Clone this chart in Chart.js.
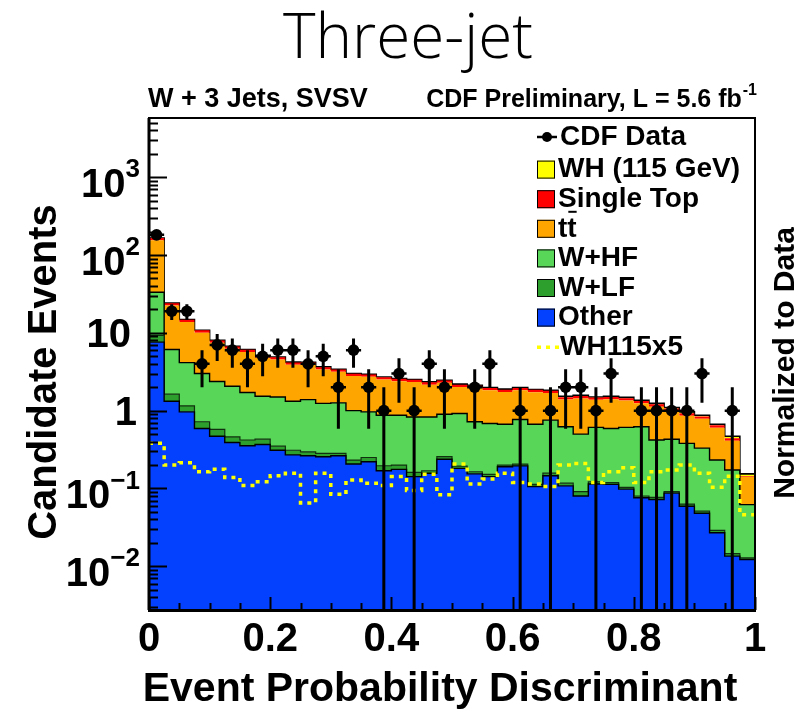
<!DOCTYPE html>
<html>
<head>
<meta charset="utf-8">
<script src="https://cdn.jsdelivr.net/npm/chart.js@4.4.1/dist/chart.umd.min.js"></script>
<style>
  html, body { margin: 0; padding: 0; background: #ffffff; }
  #wrap { width: 803px; height: 713px; }
</style>
</head>
<body>
<div id="wrap"><canvas id="c" width="803" height="713"></canvas></div>
<script>
// Histogram binning of the discriminant
const binLow = 0, binHigh = 1, nBins = 40;

// Expected events per bin, by process (stacked bottom to top)
const other = [7.6, 1.32, 0.965, 0.59, 0.47, 0.39, 0.354, 0.368, 0.31, 0.27,
  0.263, 0.256, 0.263, 0.206, 0.22, 0.169, 0.176, 0.142, 0.157, 0.237,
  0.181, 0.154, 0.142, 0.19, 0.195, 0.106, 0.146, 0.108, 0.08, 0.114,
  0.113, 0.098, 0.076, 0.072, 0.087, 0.059, 0.048, 0.027, 0.0135, 0.0122];
const wlf = [1.7, 0.31, 0.185, 0.13, 0.104, 0.07, 0.066, 0.062, 0.04, 0.04,
  0.033, 0.027, 0.02, 0.026, 0.03, 0.027, 0.024, 0.019, 0.012, 0.019,
  0.013, 0.01, 0.01, 0.01, 0.011, 0.007, 0.011, 0.009, 0.011, 0.008,
  0.006, 0.005, 0.004, 0.005, 0.004, 0.004, 0.003, 0.002, 0.001, 0.0006];
const whf = [24.0, 4.47, 3.0, 2.28, 1.8, 1.6, 1.29, 1.1, 1.15, 1.01,
  1.09, 0.957, 0.977, 0.768, 0.715, 0.679, 0.675, 0.669, 0.661, 0.644,
  0.726, 0.556, 0.533, 0.47, 0.564, 0.557, 0.598, 0.503, 0.409, 0.488,
  0.471, 0.507, 0.54, 0.343, 0.339, 0.317, 0.279, 0.203, 0.1585, 0.0492];
const ttbar = [121.8, 16.39, 9.65, 7.07, 5.08, 4.17, 3.97, 3.27, 3.05, 2.58,
  2.53, 2.14, 1.9, 1.78, 1.76, 1.64, 1.52, 1.5, 1.33, 1.38,
  1.09, 1.24, 1.14, 1.07, 1.06, 1.06, 0.935, 0.771, 0.935, 0.768,
  0.808, 0.737, 0.628, 0.706, 0.563, 0.482, 0.457, 0.373, 0.237, 0.079];
const singleTop = [10.8, 1.57, 0.96, 0.7, 0.52, 0.44, 0.4, 0.33, 0.32, 0.27,
  0.27, 0.24, 0.22, 0.195, 0.19, 0.176, 0.168, 0.163, 0.152, 0.16,
  0.142, 0.138, 0.129, 0.123, 0.129, 0.122, 0.119, 0.099, 0.103, 0.098,
  0.099, 0.096, 0.088, 0.081, 0.072, 0.063, 0.057, 0.044, 0.031, 0.004];
const wh115 = [0.076, 0.04, 0.043, 0.033, 0.035, 0.028, 0.022, 0.024, 0.029, 0.031,
  0.013, 0.031, 0.017, 0.026, 0.023, 0.022, 0.028, 0.019, 0.03, 0.017,
  0.041, 0.023, 0.026, 0.031, 0.024, 0.023, 0.021, 0.04, 0.042, 0.024,
  0.033, 0.037, 0.024, 0.033, 0.035, 0.04, 0.031, 0.021, 0.029, 0.0092];

// Signal shape scaled by five (dotted overlay)
const wh115x5 = [0.38, 0.2, 0.214, 0.164, 0.176, 0.138, 0.109, 0.122, 0.146, 0.157,
  0.065, 0.157, 0.084, 0.128, 0.117, 0.109, 0.142, 0.094, 0.152, 0.083,
  0.206, 0.114, 0.132, 0.157, 0.119, 0.114, 0.106, 0.2, 0.21, 0.119,
  0.164, 0.185, 0.119, 0.164, 0.173, 0.2, 0.157, 0.104, 0.144, 0.046];

// Observed candidate events per bin
const cdfData = [182, 19, 19, 4, 7, 6, 4, 5, 6, 6,
  4, 5, 2, 6, 2, 1, 3, 1, 4, 2,
  0, 2, 4, 0, 1, 0, 1, 2, 2, 1,
  3, 0, 1, 1, 1, 1, 3, 0, 1, 0];

// Axis ranges and tick labels
const yMin = 0.00274, yMax = 5780;
const yLabelExponents = [-2, -1, 0, 1, 2, 3];
const xLabelStep = 0.2, xMinorStep = 0.05;

const FONT = '"Liberation Sans", Arial, Helvetica, sans-serif';
const binWidth = (binHigh - binLow) / nBins;

// Stack the processes and turn each cumulative layer into a step outline
const layers = [
  { label: 'Other', values: other, color: '#0341ff', border: '#000000', bw: 1.4 },
  { label: 'W+LF', values: wlf, color: '#2c9f2c', border: '#103010', bw: 1.2 },
  { label: 'W+HF', values: whf, color: '#57d657', border: '#000000', bw: 1.4 },
  { label: 'tt', values: ttbar, color: '#ffa500', border: '#ffa500', bw: 0 },
  { label: 'Single Top', values: singleTop, color: '#ff0000', border: '#ff0000', bw: 0 },
  { label: 'WH (115 GeV)', values: wh115, color: '#ffff00', border: '#000000', bw: 1.6 }
];
const running = new Array(nBins).fill(0);
function stepPoints(vals) {
  const pts = vals.map((v, i) => ({ x: binLow + i * binWidth, y: v }));
  pts.push({ x: binHigh, y: vals[nBins - 1] });
  return pts;
}
const histDatasets = layers.map((layer, k) => {
  for (let i = 0; i < nBins; i++) running[i] += layer.values[i];
  return {
    label: layer.label,
    data: stepPoints(running.slice()),
    stepped: true,
    fill: k === 0 ? 'start' : '-1',
    backgroundColor: layer.color,
    borderColor: layer.border,
    borderWidth: layer.bw,
    pointRadius: 0,
    order: 5,
    clip: 0
  };
});

// Data points with sqrt(N) vertical bars and bin-width horizontal bars;
// a bar whose lower end reaches zero runs down past the axis floor
const floorValue = 1e-6;
const dataPoints = [], vBars = [], hBars = [];
cdfData.forEach((n, i) => {
  if (n <= 0) return;
  const xc = binLow + (i + 0.5) * binWidth;
  const e = Math.sqrt(n);
  const lo = n - e > 0 ? n - e : floorValue;
  dataPoints.push({ x: xc, y: n });
  vBars.push({ x: xc, y: lo }, { x: xc, y: n + e }, { x: xc, y: null });
  hBars.push({ x: xc - binWidth / 2, y: n }, { x: xc + binWidth / 2, y: n }, { x: xc, y: null });
});

const datasets = histDatasets.concat([
  {
    label: 'WH115x5', data: stepPoints(wh115x5), stepped: true, fill: false,
    borderColor: '#ffff00', borderWidth: 3.5, borderDash: [4, 5],
    pointRadius: 0, order: 3, clip: 0
  },
  {
    label: 'vbars', data: vBars, fill: false, spanGaps: false,
    borderColor: '#000000', borderWidth: 3, pointRadius: 0, order: 2, clip: 0
  },
  {
    label: 'hbars', data: hBars, fill: false, spanGaps: false,
    borderColor: '#000000', borderWidth: 2.5, pointRadius: 0, order: 2, clip: 0
  },
  {
    label: 'CDF Data', data: dataPoints, showLine: false,
    pointRadius: 5.8, pointBackgroundColor: '#000000', pointBorderWidth: 0,
    order: 1
  }
]);

// Frame, inward ticks, y labels with exponents, titles and the legend
const decorations = {
  id: 'decorations',
  afterDraw(chart) {
    const ctx = chart.ctx;
    const a = chart.chartArea;
    const xs = chart.scales.x, ys = chart.scales.y;
    ctx.save();
    ctx.strokeStyle = '#000';
    ctx.fillStyle = '#000';

    // y ticks (left side, inward)
    ctx.lineWidth = 2;
    for (let d = -3; d <= 4; d++) {
      for (let m = 1; m <= 9; m++) {
        const v = m * Math.pow(10, d);
        if (v < yMin || v > yMax) continue;
        const py = Math.round(ys.getPixelForValue(v)) + 0.5;
        const len = m === 1 ? 18 : 9;
        ctx.beginPath(); ctx.moveTo(a.left, py); ctx.lineTo(a.left + len, py); ctx.stroke();
      }
    }
    // x ticks (bottom, inward)
    for (let t = 0; t <= 20; t++) {
      const v = binLow + t * xMinorStep;
      const px = Math.round(xs.getPixelForValue(v)) + 0.5;
      const len = (t % 4 === 0) ? 13 : 7;
      ctx.beginPath(); ctx.moveTo(px, a.bottom); ctx.lineTo(px, a.bottom - len); ctx.stroke();
    }
    // frame
    ctx.lineWidth = 2;
    ctx.strokeRect(a.left, a.top, a.right - a.left, a.bottom - a.top);
    ctx.lineWidth = 3;
    ctx.beginPath(); ctx.moveTo(a.left - 1, a.bottom + 0.5); ctx.lineTo(a.right + 1, a.bottom + 0.5); ctx.stroke();
    ctx.beginPath(); ctx.moveTo(a.left, a.top); ctx.lineTo(a.left, a.bottom); ctx.stroke();

    // y tick labels: 10^n
    ctx.textBaseline = 'middle';
    yLabelExponents.forEach(ex => {
      const py = ys.getPixelForValue(Math.pow(10, ex));
      const right = 140;
      ctx.textAlign = 'right';
      if (ex === 0) {
        ctx.font = 'bold 40px ' + FONT;
        ctx.fillText('1', right - 3, py + 3);
      } else if (ex === 1) {
        ctx.font = 'bold 40px ' + FONT;
        ctx.fillText('10', right - 9, py + 3);
      } else {
        ctx.font = 'bold 26px ' + FONT;
        const sup = String(ex).replace('-', '\u2212');
        const sw = ctx.measureText(sup).width;
        ctx.fillText(sup, right, py - 7);
        ctx.font = 'bold 40px ' + FONT;
        ctx.fillText('10', right - sw, py + 9);
      }
    });

    // axis titles
    ctx.textAlign = 'center';
    ctx.font = 'bold 41px ' + FONT;
    ctx.fillText('Event Probability Discriminant', 440, 690);
    ctx.save();
    ctx.translate(45, 372); ctx.rotate(-Math.PI / 2);
    ctx.font = 'bold 40px ' + FONT;
    ctx.fillText('Candidate Events', 0, 0);
    ctx.restore();
    ctx.save();
    ctx.translate(786, 363); ctx.rotate(-Math.PI / 2);
    ctx.font = 'bold 30px ' + FONT;
    ctx.fillText('Normalized to Data', 0, 0);
    ctx.restore();

    // main title and header lines
    ctx.font = '300 62px "Open Sans", ' + FONT;
    ctx.fillText('Three-jet', 408, 40);
    ctx.font = 'bold 27px ' + FONT;
    ctx.textAlign = 'left';
    ctx.fillText('W + 3 Jets, SVSV', 148, 100);
    ctx.font = 'bold 16px ' + FONT;
    const supText = '-1';
    const supW = ctx.measureText(supText).width;
    ctx.fillText(supText, 757 - supW, 91);
    ctx.font = 'bold 25px ' + FONT;
    ctx.textAlign = 'right';
    ctx.fillText('CDF Preliminary, L = 5.6 fb', 757 - supW - 1, 100);

    // legend
    const rowY = [137, 169.6, 199.2, 228.8, 258.4, 288, 317.6, 347.2];
    const boxX = 537, boxW = 18, textX = 560;
    ctx.font = 'bold 28px ' + FONT;
    ctx.textAlign = 'left';
    ctx.textBaseline = 'middle';
    // data marker
    ctx.lineWidth = 2.5;
    ctx.beginPath(); ctx.moveTo(boxX, rowY[0]); ctx.lineTo(boxX + 20, rowY[0]); ctx.stroke();
    ctx.beginPath(); ctx.arc(boxX + 10, rowY[0], 5, 0, Math.PI * 2); ctx.fill();
    ctx.fillText('CDF Data', textX, rowY[0]);
    const entries = [
      ['WH (115 GeV)', layers[5].color], ['Single Top', layers[4].color], ['tt', layers[3].color],
      ['W+HF', layers[2].color], ['W+LF', layers[1].color], ['Other', layers[0].color]
    ];
    entries.forEach((en, k) => {
      const cy = rowY[k + 1];
      ctx.fillStyle = en[1];
      ctx.fillRect(boxX, cy - boxW / 2, boxW, boxW);
      ctx.strokeStyle = '#000'; ctx.lineWidth = 1;
      ctx.strokeRect(boxX + 0.5, cy - boxW / 2 + 0.5, boxW - 1, boxW - 1);
      ctx.fillStyle = '#000';
      ctx.fillText(en[0], textX - 2, cy);
      if (en[0] === 'tt') {
        const w1 = ctx.measureText('t').width;
        const w2 = ctx.measureText('tt').width;
        ctx.lineWidth = 2;
        ctx.beginPath(); ctx.moveTo(textX - 2 + w1 + 1, cy - 17); ctx.lineTo(textX - 2 + w2, cy - 17); ctx.stroke();
      }
    });
    // dotted signal overlay sample
    const ly = rowY[7];
    ctx.strokeStyle = '#ffff00'; ctx.lineWidth = 3.5; ctx.setLineDash([4, 5]);
    ctx.beginPath(); ctx.moveTo(boxX, ly); ctx.lineTo(boxX + 22, ly); ctx.stroke();
    ctx.setLineDash([]);
    ctx.fillStyle = '#000';
    ctx.fillText('WH115x5', textX, ly);
    ctx.restore();
  }
};

new Chart(document.getElementById('c'), {
  type: 'line',
  data: { datasets },
  options: {
    responsive: false,
    animation: false,
    events: [],
    layout: { padding: { left: 149, right: 48, top: 118, bottom: 0 } },
    plugins: { legend: { display: false }, tooltip: { enabled: false } },
    scales: {
      x: {
        type: 'linear', min: binLow, max: binHigh,
        grid: { display: false, drawTicks: false },
        border: { display: false },
        ticks: {
          stepSize: xLabelStep, autoSkip: false, maxRotation: 0, padding: 6,
          color: '#000', font: { family: FONT, weight: 'bold', size: 40 },
          callback: v => String(Math.round(v * 10) / 10)
        },
        afterFit(s) { s.height = 103; }
      },
      y: {
        type: 'logarithmic', min: yMin, max: yMax,
        display: false
      }
    }
  },
  plugins: [decorations]
});
</script>
</body>
</html>
